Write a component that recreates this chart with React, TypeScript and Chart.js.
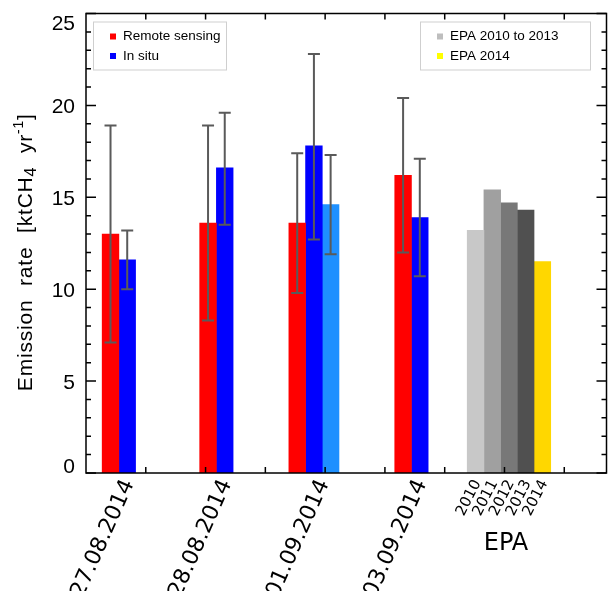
import React, { useEffect, useRef } from 'react';
import { Chart, registerables } from 'chart.js';

Chart.register(...registerables);

// Measurement days plus the EPA inventory group
const categories = ['27.08.2014', '28.08.2014', '01.09.2014', '03.09.2014', 'EPA'];

// Remote sensing estimates with uncertainty range [ktCH4 / yr]
const remoteSensing = [13.0, 13.6, 13.6, 16.2, null];
const remoteSensingLow = [7.1, 8.3, 9.8, 12.0, null];
const remoteSensingHigh = [18.9, 18.9, 17.4, 20.4, null];

// In situ estimates
const inSitu = [11.6, 16.6, 17.8, 13.9, null];
const inSituLow = [10.0, 13.5, 12.7, 10.7, null];
const inSituHigh = [13.2, 19.6, 22.8, 17.1, null];

// Second in situ estimate (01.09.2014 only)
const inSituSecond = [null, null, 14.6, null, null];
const inSituSecondLow = [null, null, 11.9, null, null];
const inSituSecondHigh = [null, null, 17.3, null, null];

// EPA inventory by year
const epaYears = ['2010', '2011', '2012', '2013', '2014'];
const epaValues = [13.2, 15.4, 14.7, 14.3, 11.5];

// Legend entries
const legendMeasured = ['Remote sensing', 'In situ'];
const legendEpa = ['EPA 2010 to 2013', 'EPA 2014'];

const RED = '#FF0000';
const BLUE = '#0000FF';
const LIGHT_BLUE = '#1E90FF';
const EPA_COLORS = ['#C8C8C8', '#A0A0A0', '#787878', '#505050', '#FFD700'];
const LEGEND_MEASURED_COLORS = [RED, BLUE];
const LEGEND_EPA_COLORS = ['#BEBEBE', '#FFFF00'];

const SANS = '"Liberation Sans", Arial, sans-serif';
const DEJAVU = '"DejaVu Sans", sans-serif';

const EPA_INDEX = categories.indexOf('EPA');
const X_MINOR_STEP = 0.613;

const toPoints = (values: (number | null)[]) => categories.map((_, i) => ({ x: i, y: values[i] }));

const datasets: any[] = [
  { label: 'Remote sensing', data: toPoints(remoteSensing), backgroundColor: RED, errorLow: remoteSensingLow, errorHigh: remoteSensingHigh },
  { label: 'In situ', data: toPoints(inSitu), backgroundColor: BLUE, errorLow: inSituLow, errorHigh: inSituHigh },
  { label: 'In situ (2)', data: toPoints(inSituSecond), backgroundColor: LIGHT_BLUE, errorLow: inSituSecondLow, errorHigh: inSituSecondHigh },
  ...epaYears.map((year, k) => ({
    label: 'EPA ' + year,
    data: toPoints(categories.map((_, i) => (i === EPA_INDEX ? epaValues[k] : null))),
    backgroundColor: EPA_COLORS[k],
    epaYear: year,
  })),
];

const decorations = {
  id: 'decorations',
  afterDatasetsDraw(chart: any) {
    const { ctx, chartArea: a, scales } = chart;
    const xs = scales.x;
    const ys = scales.y;
    ctx.save();

    // error bars
    ctx.strokeStyle = '#5a5a5a';
    ctx.lineWidth = 2;
    chart.data.datasets.forEach((ds: any, di: number) => {
      if (!ds.errorLow) return;
      const meta = chart.getDatasetMeta(di);
      meta.data.forEach((el: any, i: number) => {
        const lo = ds.errorLow[i];
        const hi = ds.errorHigh[i];
        if (lo == null || hi == null) return;
        const px = el.x;
        const y1 = ys.getPixelForValue(lo);
        const y2 = ys.getPixelForValue(hi);
        ctx.beginPath();
        ctx.moveTo(px, y1);
        ctx.lineTo(px, y2);
        ctx.moveTo(px - 6, y1);
        ctx.lineTo(px + 6, y1);
        ctx.moveTo(px - 6, y2);
        ctx.lineTo(px + 6, y2);
        ctx.stroke();
      });
    });

    // frame
    ctx.strokeStyle = '#000';
    ctx.lineWidth = 1.5;
    ctx.strokeRect(a.left, a.top, a.right - a.left, a.bottom - a.top);

    // y tick marks (both sides, pointing inwards)
    ctx.beginPath();
    ys.ticks.forEach((t: any) => {
      const py = ys.getPixelForValue(t.value);
      const len = t.value % 5 === 0 ? 10 : 5;
      ctx.moveTo(a.left, py);
      ctx.lineTo(a.left + len, py);
      ctx.moveTo(a.right, py);
      ctx.lineTo(a.right - len, py);
    });
    // x tick marks (top and bottom, pointing inwards)
    xs.ticks.forEach((t: any) => {
      const px = xs.getPixelForValue(t.value);
      if (px <= a.left + 1 || px >= a.right - 1) return;
      ctx.moveTo(px, a.bottom);
      ctx.lineTo(px, a.bottom - 6);
      ctx.moveTo(px, a.top);
      ctx.lineTo(px, a.top + 6);
    });
    ctx.stroke();

    // y tick labels
    ctx.fillStyle = '#000';
    ctx.font = `21px ${SANS}`;
    ctx.textAlign = 'right';
    ctx.textBaseline = 'alphabetic';
    const capH = 15;
    ys.ticks.forEach((t: any) => {
      if (t.value % 5 !== 0) return;
      const py = ys.getPixelForValue(t.value);
      const base = Math.min(Math.max(py + capH / 2, a.top + capH + 1), a.bottom);
      ctx.fillText(String(t.value), a.left - 11, base);
    });

    // y axis title
    const parts = [
      { t: 'Emission rate [ktCH', size: 21, dy: 0 },
      { t: '4', size: 16, dy: 4 },
      { t: ' yr', size: 21, dy: 0 },
      { t: '-1', size: 14, dy: -9 },
      { t: ']', size: 21, dy: 0 },
    ];
    ctx.save();
    (ctx as any).wordSpacing = '7px';
    (ctx as any).letterSpacing = '0.8px';
    let total = 0;
    parts.forEach((p) => {
      ctx.font = `${p.size}px ${SANS}`;
      total += ctx.measureText(p.t).width;
    });
    ctx.translate(31.5, (a.top + a.bottom) / 2 + 9);
    ctx.rotate(-Math.PI / 2);
    ctx.textAlign = 'left';
    let cx = -total / 2;
    parts.forEach((p) => {
      ctx.font = `${p.size}px ${SANS}`;
      ctx.fillText(p.t, cx, p.dy);
      cx += ctx.measureText(p.t).width;
    });
    ctx.restore();

    // x labels: dates, rotated
    ctx.textAlign = 'right';
    ctx.textBaseline = 'middle';
    const dateAngle = (-66 * Math.PI) / 180;
    categories.forEach((c, i) => {
      if (i === EPA_INDEX) return;
      const px = xs.getPixelForValue(i);
      ctx.save();
      ctx.translate(px + 10, a.bottom + 8);
      ctx.rotate(dateAngle);
      ctx.font = `22px ${DEJAVU}`;
      ctx.fillText(c, 0, 0);
      ctx.restore();
    });

    // EPA year labels under each EPA bar
    const yearAngle = (-63 * Math.PI) / 180;
    chart.data.datasets.forEach((ds: any, di: number) => {
      if (!ds.epaYear) return;
      const el = chart.getDatasetMeta(di).data[EPA_INDEX];
      ctx.save();
      ctx.translate(el.x + 2, a.bottom + 8);
      ctx.rotate(yearAngle);
      ctx.font = `15px ${DEJAVU}`;
      ctx.fillText(ds.epaYear, 0, 0);
      ctx.restore();
    });

    // EPA group label
    ctx.textAlign = 'center';
    ctx.textBaseline = 'middle';
    ctx.font = `24px ${DEJAVU}`;
    ctx.fillText(categories[EPA_INDEX], xs.getPixelForValue(EPA_INDEX) - 3, 544);

    // legend boxes
    const drawLegend = (left: number, top: number, width: number, labels: string[], colors: string[]) => {
      ctx.fillStyle = '#fff';
      ctx.fillRect(left, top, width, 48);
      ctx.strokeStyle = '#cfcfcf';
      ctx.lineWidth = 1;
      ctx.strokeRect(left, top, width, 48);
      ctx.font = `13.5px ${SANS}`;
      ctx.textAlign = 'left';
      ctx.textBaseline = 'middle';
      labels.forEach((lab, k) => {
        const cy = top + 14.5 + k * 19.5;
        ctx.fillStyle = colors[k];
        ctx.fillRect(left + 16.5, cy - 3, 6, 6);
        ctx.fillStyle = '#000';
        ctx.fillText(lab, left + 29.5, cy);
      });
    };
    drawLegend(Math.round(a.left) + 7.5, Math.round(a.top) + 8, 133, legendMeasured, LEGEND_MEASURED_COLORS);
    drawLegend(420.5, Math.round(a.top) + 8, 170, legendEpa, LEGEND_EPA_COLORS);

    ctx.restore();
  },
};

export default function App() {
  const ref = useRef<HTMLCanvasElement>(null);

  useEffect(() => {
    const chart = new Chart(ref.current as HTMLCanvasElement, {
      type: 'bar',
      data: { datasets },
      options: {
        responsive: false,
        animation: false,
        events: [],
        layout: { padding: { top: 13.5, right: 1.5, left: 0, bottom: 0 } },
        datasets: { bar: { barThickness: 16.7, skipNull: true, grouped: true } } as any,
        plugins: { legend: { display: false }, tooltip: { enabled: false } },
        scales: {
          x: {
            type: 'linear',
            offset: false,
            min: -0.337,
            max: 5.0,
            grid: { display: false },
            border: { display: false },
            ticks: { display: false },
            afterFit: (s: any) => {
              s.height = 118;
            },
            afterBuildTicks: (s: any) => {
              const ticks = [];
              for (let v = s.min + X_MINOR_STEP; v < s.max; v += X_MINOR_STEP) ticks.push({ value: v });
              s.ticks = ticks;
            },
          },
          y: {
            type: 'linear',
            min: 0,
            max: 25,
            grid: { display: false },
            border: { display: false },
            ticks: { display: false, stepSize: 1 },
            afterFit: (s: any) => {
              s.width = 86;
            },
          },
        } as any,
      },
      plugins: [decorations],
    });
    return () => chart.destroy();
  }, []);

  return (
    <div style={{ position: 'fixed', left: 0, top: 0, width: 608, height: 591, background: '#fff' }}>
      <canvas ref={ref} width={608} height={591} style={{ display: 'block' }} />
    </div>
  );
}
